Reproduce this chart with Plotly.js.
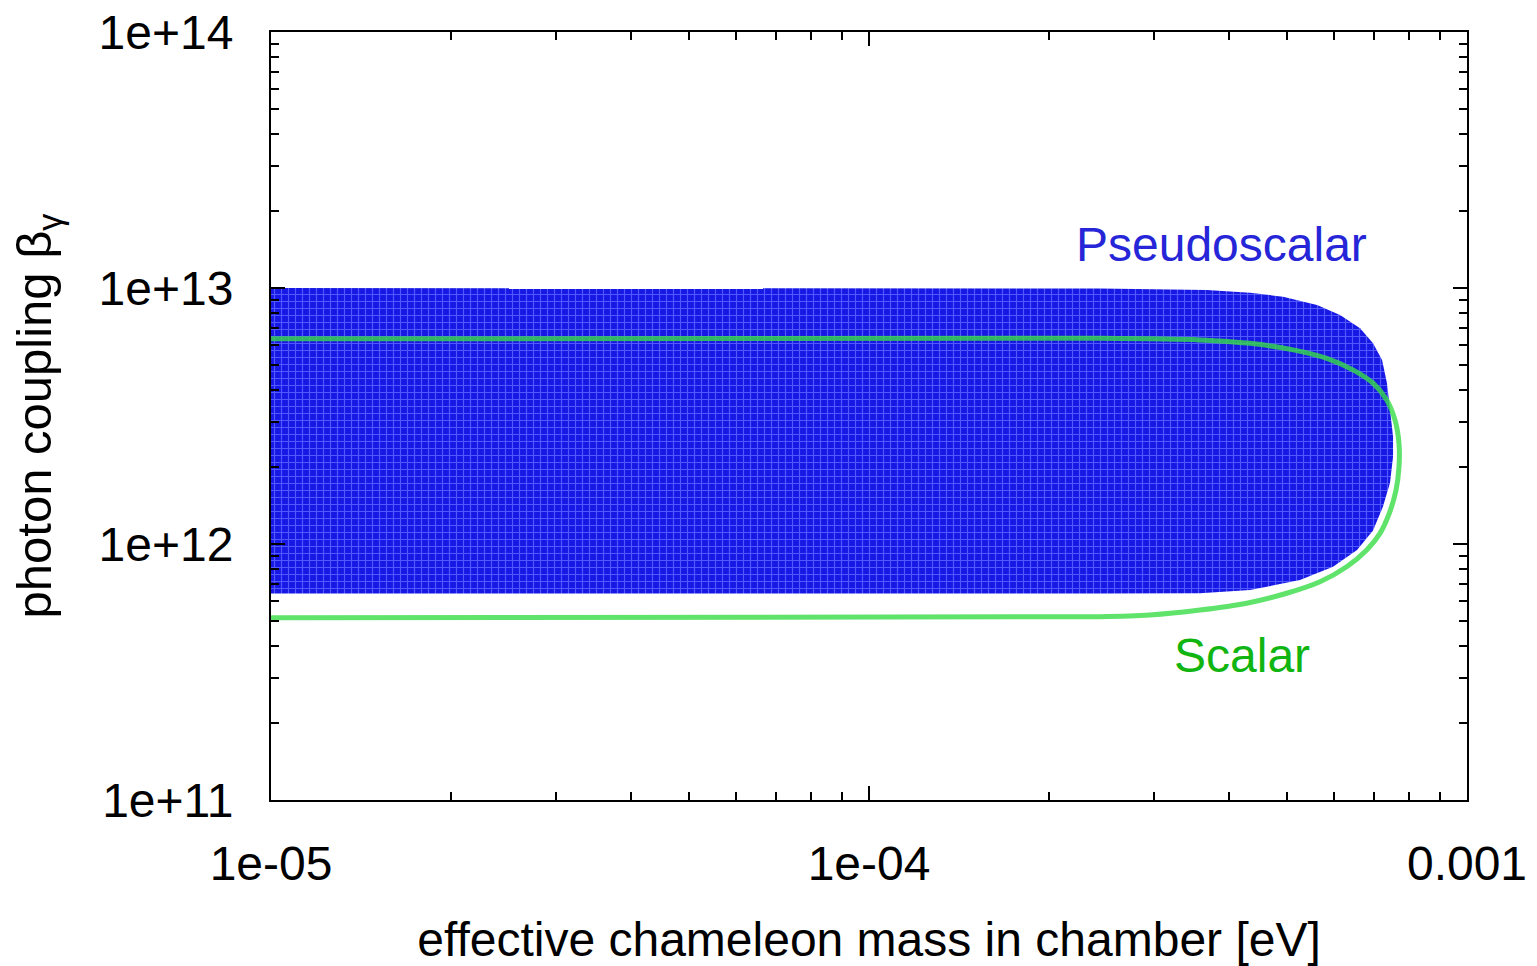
<!DOCTYPE html>
<html>
<head>
<meta charset="utf-8">
<script src="https://cdn.plot.ly/plotly-3.0.1.min.js"></script>
<style>
  html, body { margin: 0; padding: 0; background: #ffffff; }
  #chart { width: 1537px; height: 966px; }
</style>
</head>
<body>
<div id="chart"></div>
<script>
// Excluded region for a pseudoscalar coupling: closed boundary in (mass [eV], beta_gamma)
const pseudoMass = [1e-5, 2.43e-4, 3.674e-4, 4.336e-4, 4.924e-4, 5.613e-4, 6.133e-4, 6.625e-4, 6.964e-4,
                    7.21e-4, 7.35e-4, 7.434e-4, 7.522e-4, 7.522e-4, 7.434e-4, 7.236e-4, 6.964e-4, 6.549e-4,
                    5.97e-4, 5.257e-4, 4.336e-4, 3.577e-4, 2.43e-4, 1e-5, 1e-5];
const pseudoBeta = [1.0e13, 9.95e12, 9.82e12, 9.58e12, 9.25e12, 8.58e12, 7.85e12, 6.96e12, 6.08e12,
                    5.23e12, 4.24e12, 3.34e12, 2.63e12, 2.19e12, 1.73e12, 1.40e12, 1.13e12, 9.48e11,
                    8.15e11, 7.23e11, 6.61e11, 6.42e11, 6.40e11, 6.40e11, 1.0e13];

// Boundary of the scalar-coupling region (open towards low mass)
const scalarMass = [1e-5, 2.433e-4, 3.577e-4, 4.336e-4, 5.123e-4, 5.827e-4, 6.456e-4, 6.972e-4, 7.341e-4,
                    7.578e-4, 7.696e-4, 7.696e-4, 7.608e-4, 7.416e-4, 7.153e-4, 6.797e-4, 6.292e-4, 5.678e-4,
                    4.995e-4, 4.281e-4, 3.577e-4, 2.95e-4, 2.433e-4, 1e-5];
const scalarBeta = [6.33e12, 6.36e12, 6.27e12, 6.08e12, 5.73e12, 5.31e12, 4.78e12, 4.24e12, 3.65e12,
                    3.05e12, 2.47e12, 2.00e12, 1.62e12, 1.32e12, 1.10e12, 9.48e11, 8.15e11, 7.12e11,
                    6.42e11, 5.87e11, 5.52e11, 5.28e11, 5.20e11, 5.15e11];

// Axis ticks
const xMajorVals = [1e-5, 1e-4, 1e-3];
const xMajorText = ['1e-05', '1e-04', '0.001'];
const yMajorVals = [1e11, 1e12, 1e13, 1e14];
const yMajorText = ['1e+11', '1e+12', '1e+13', '1e+14'];

function minorDecades(lo, hi) {
  const out = [];
  for (let e = lo; e < hi; e++) {
    for (let k = 2; k <= 9; k++) out.push(k * Math.pow(10, e));
  }
  return out;
}
const xMinorVals = minorDecades(-5, -3);
const yMinorVals = minorDecades(11, 14);

const FONT = 'Liberation Sans, Arial, Helvetica, sans-serif';

const traces = [
  {
    x: pseudoMass, y: pseudoBeta,
    type: 'scatter', mode: 'lines',
    fill: 'toself',
    fillcolor: '#2424ea',
    fillpattern: { shape: '+', size: 7, solidity: 0.3, fgcolor: '#5058ff', bgcolor: '#1818e4' },
    line: { width: 0, color: '#1a1ae4' },
    hoverinfo: 'skip', showlegend: false
  },
  {
    x: scalarMass, y: scalarBeta,
    type: 'scatter', mode: 'lines',
    line: { color: 'rgba(55,220,70,0.8)', width: 5, shape: 'spline', smoothing: 0.8 },
    hoverinfo: 'skip', showlegend: false
  }
];

const axisCommon = {
  type: 'log',
  showgrid: false, zeroline: false,
  showline: true, linecolor: '#000000', linewidth: 2,
  mirror: 'allticks',
  ticks: 'inside', ticklen: 14, tickwidth: 2, tickcolor: '#000000',
  tickfont: { family: FONT, size: 48, color: '#000000' },
  tickmode: 'array'
};

const layout = {
  width: 1537, height: 966,
  paper_bgcolor: '#ffffff', plot_bgcolor: '#ffffff',
  margin: { l: 271, r: 70, t: 32, b: 166 },
  showlegend: false,
  xaxis: Object.assign({}, axisCommon, {
    range: [-5, -3],
    tickvals: xMajorVals, ticktext: xMajorText,
    ticklabelstandoff: 20,
    minor: { tickvals: xMinorVals, ticks: 'inside', ticklen: 8, tickwidth: 2, tickcolor: '#000000' },
    title: { text: 'effective chameleon mass in chamber [eV]', font: { family: FONT, size: 48, color: '#000000' }, standoff: 37 }
  }),
  yaxis: Object.assign({}, axisCommon, {
    range: [11, 14],
    tickvals: yMajorVals, ticktext: yMajorText,
    ticklabelstandoff: 26,
    minor: { tickvals: yMinorVals, ticks: 'inside', ticklen: 8, tickwidth: 2, tickcolor: '#000000' },
    title: { text: 'photon coupling β<sub>γ</sub>', font: { family: FONT, size: 49, color: '#000000' }, standoff: 31 }
  }),
  annotations: [
    { x: Math.log10(3.88e-4), y: 13.168, xref: 'x', yref: 'y', text: 'Pseudoscalar', showarrow: false,
      font: { family: FONT, size: 48, color: '#2626d8' } },
    { x: Math.log10(4.2e-4), y: 11.566, xref: 'x', yref: 'y', text: 'Scalar', showarrow: false,
      font: { family: FONT, size: 48, color: '#11b511' } }
  ]
};

Plotly.newPlot('chart', traces, layout, { displayModeBar: false, staticPlot: true });
</script>
</body>
</html>
